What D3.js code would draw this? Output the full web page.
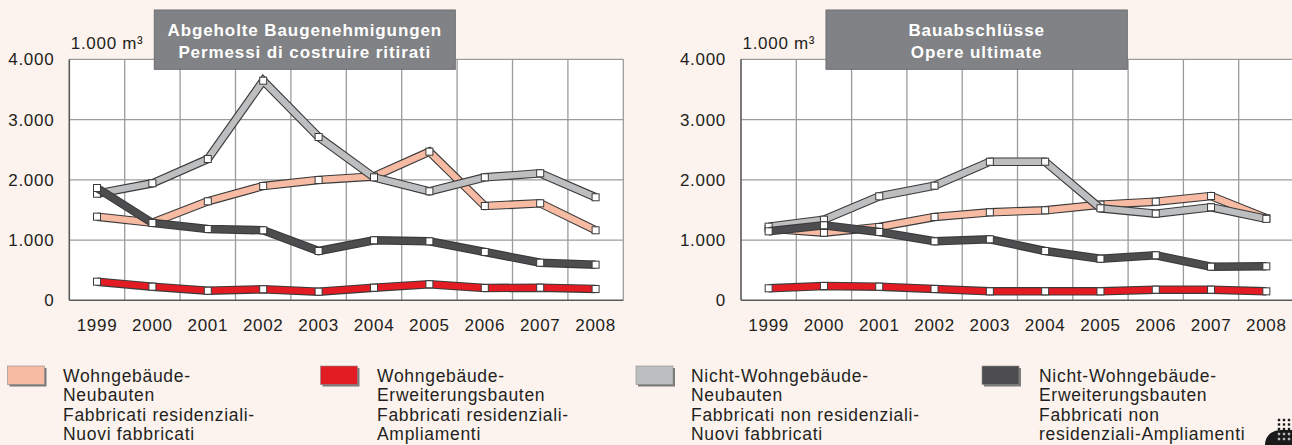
<!DOCTYPE html>
<html><head><meta charset="utf-8">
<script src="https://cdn.jsdelivr.net/npm/d3@7"></script>
<style>
html,body{margin:0;padding:0;background:#fdf3ee;}
svg{display:block;}
text{font-family:"Liberation Sans",Arial,sans-serif;}
</style></head>
<body>
<svg id="chart" width="1292" height="445"></svg>
<script>
// ---------- data ----------
const years = ["1999","2000","2001","2002","2003","2004","2005","2006","2007","2008"];
const yTicks = [0,1000,2000,3000,4000];
const yTickLabels = ["0","1.000","2.000","3.000","4.000"];
const unitLabel = "1.000 m³";

const permitsTitle = ["Abgeholte Baugenehmigungen","Permessi di costruire ritirati"];
const doneTitle = ["Bauabschlüsse","Opere ultimate"];

const permitsWohnNeu      = [1388,1288,1643,1897,1997,2055,2467,1565,1610,1162];
const permitsWohnErw      = [309,226,159,183,143,209,266,204,209,188];
const permitsNichtWohnNeu = [1769,1942,2345,3645,2710,2041,1809,2041,2108,1710];
const permitsNichtWohnErw = [1864,1283,1183,1162,818,996,979,802,624,591];

const doneWohnNeu      = [1190,1122,1217,1383,1461,1494,1587,1637,1731,1362];
const doneWohnErw      = [199,237,226,188,149,149,149,176,176,149];
const doneNichtWohnNeu = [1222,1338,1726,1902,2300,2300,1527,1438,1544,1352];
const doneNichtWohnErw = [1145,1245,1134,979,1012,818,690,747,558,564];

const seriesColors = ["#f7bba3","#e31b23","#bcbec0","#4d4d4f"];
const legendLabels = [
  ["Wohngebäude-","Neubauten","Fabbricati residenziali-","Nuovi fabbricati"],
  ["Wohngebäude-","Erweiterungsbauten","Fabbricati residenziali-","Ampliamenti"],
  ["Nicht-Wohngebäude-","Neubauten","Fabbricati non residenziali-","Nuovi fabbricati"],
  ["Nicht-Wohngebäude-","Erweiterungsbauten","Fabbricati non","residenziali-Ampliamenti"]
];

// ---------- drawing ----------
const svg = d3.select("#chart");
svg.append("rect").attr("width",1292).attr("height",445).attr("fill","#fdf3ee");

const FS = "17px", LS = "0.7px";

function panel(cfg){
  const x = d3.scaleBand().domain(years).range([cfg.x0, cfg.x1]).padding(0);
  const y = d3.scaleLinear().domain([0,4000]).range([300.3, 59.3]);
  const g = svg.append("g");
  // plot background
  g.append("rect").attr("x",cfg.x0).attr("y",y(4000)).attr("width",cfg.x1-cfg.x0).attr("height",y(0)-y(4000)).attr("fill","#ffffff");
  // horizontal grid
  g.selectAll(".hg").data(yTicks.filter(d=>d>0)).join("line")
    .attr("x1",cfg.x0).attr("x2",cfg.x1).attr("y1",d=>y(d)).attr("y2",d=>y(d))
    .attr("stroke","#9b9b9b").attr("stroke-width",1.3);
  // vertical grid
  const bounds = years.slice(1).map(d=>x(d)).concat([cfg.x1]);
  g.selectAll(".vg").data(bounds).join("line")
    .attr("x1",d=>d).attr("x2",d=>d).attr("y1",y(0)).attr("y2",y(4000))
    .attr("stroke","#9b9b9b").attr("stroke-width",1.3);
  // axis frame
  g.append("line").attr("x1",cfg.x0).attr("x2",cfg.x0).attr("y1",y(0)).attr("y2",y(4000)).attr("stroke","#5a5a5a").attr("stroke-width",1.6);
  g.append("line").attr("x1",cfg.x0).attr("x2",cfg.x1).attr("y1",y(0)).attr("y2",y(0)).attr("stroke","#5a5a5a").attr("stroke-width",1.6);

  // y axis
  const ya = g.append("g").attr("transform",`translate(${cfg.x0},0)`)
    .call(d3.axisLeft(y).tickValues(yTicks).tickFormat((d,i)=>yTickLabels[i]).tickSize(0).tickPadding(15));
  ya.select(".domain").remove();
  ya.selectAll("text").attr("font-size",FS).attr("letter-spacing",LS).attr("fill","#231f20").attr("font-family",null);
  // x axis
  const xa = g.append("g").attr("transform",`translate(0,${y(0)})`)
    .call(d3.axisBottom(x).tickSize(0).tickPadding(19));
  xa.select(".domain").remove();
  xa.selectAll("text").attr("font-size",FS).attr("letter-spacing",LS).attr("fill","#231f20").attr("font-family",null);

  // unit label
  g.append("text").attr("x",cfg.x0+1.5).attr("y",48.5).attr("font-size",FS).attr("letter-spacing",LS)
    .attr("fill","#231f20").text(unitLabel);

  // series
  const line = d3.line().x((d,i)=>x(years[i])+x.bandwidth()/2).y(d=>y(d));
  cfg.series.forEach((s,si)=>{
    const sg = g.append("g");
    sg.append("path").attr("d",line(s)).attr("fill","none").attr("stroke","#3a3a3a")
      .attr("stroke-width",8.5).attr("stroke-linejoin","miter").attr("stroke-miterlimit",10);
    sg.append("path").attr("d",line(s)).attr("fill","none").attr("stroke",seriesColors[si])
      .attr("stroke-width",6.3).attr("stroke-linejoin","miter").attr("stroke-miterlimit",10);
    sg.selectAll("rect").data(s).join("rect")
      .attr("x",(d,i)=>x(years[i])+x.bandwidth()/2-3.5).attr("y",d=>y(d)-3.5)
      .attr("width",7).attr("height",7).attr("fill","#ffffff").attr("stroke","#3a3a3a").attr("stroke-width",1);
  });

  // title box
  g.append("rect").attr("x",cfg.tx0).attr("y",10).attr("width",cfg.tx1-cfg.tx0).attr("height",59.3)
    .attr("fill","#808285").attr("stroke","#6b6c6e").attr("stroke-width",1);
  const tc = (cfg.tx0+cfg.tx1)/2;
  g.append("text").attr("x",tc).attr("y",35.7).attr("text-anchor","middle").attr("font-size",FS)
    .attr("font-weight","bold").attr("letter-spacing","0.9px").attr("fill","#ffffff").text(cfg.title[0]);
  g.append("text").attr("x",tc).attr("y",57.5).attr("text-anchor","middle").attr("font-size",FS)
    .attr("font-weight","bold").attr("letter-spacing","0.9px").attr("fill","#ffffff").text(cfg.title[1]);
}

panel({x0:69.3, x1:623.3, tx0:154.3, tx1:455.3, title:permitsTitle,
  series:[permitsWohnNeu, permitsWohnErw, permitsNichtWohnNeu, permitsNichtWohnErw]});
panel({x0:741, x1:1294, tx0:826, tx1:1127.3, title:doneTitle,
  series:[doneWohnNeu, doneWohnErw, doneNichtWohnNeu, doneNichtWohnErw]});

// legend
const legX = [7.5, 320.5, 636, 982];
const legTX = [63, 377, 691, 1039];
legendLabels.forEach((lines,i)=>{
  const lg = svg.append("g");
  lg.append("rect").attr("x",legX[i]+2).attr("y",368).attr("width",37).attr("height",18.5).attr("fill","#7a7a7a");
  lg.append("rect").attr("x",legX[i]).attr("y",366).attr("width",37).attr("height",18.5)
    .attr("fill",seriesColors[i]).attr("stroke","#8a8a8a").attr("stroke-width",0.6);
  lines.forEach((t,j)=>{
    lg.append("text").attr("x",legTX[i]).attr("y",382+j*19.3).attr("font-size","17.5px")
      .attr("letter-spacing",LS).attr("fill","#231f20").text(t);
  });
});

// small logo, bottom right
const logo = svg.append("g");
logo.append("path").attr("d","M1265,445 C1265,436 1272,430 1281,430 L1292,430 L1292,445 Z").attr("fill","#1a1a1a");
const dotCols = [1279,1284,1289];
const dotRows = [420,424.5,429,434,439];
dotRows.forEach(r=>dotCols.forEach(c=>{
  logo.append("rect").attr("x",c-1.2).attr("y",r-1.2).attr("width",2.4).attr("height",2.4)
    .attr("fill", r>=430 ? "#b8b8b8" : "#1a1a1a");
}));
</script>
</body></html>
